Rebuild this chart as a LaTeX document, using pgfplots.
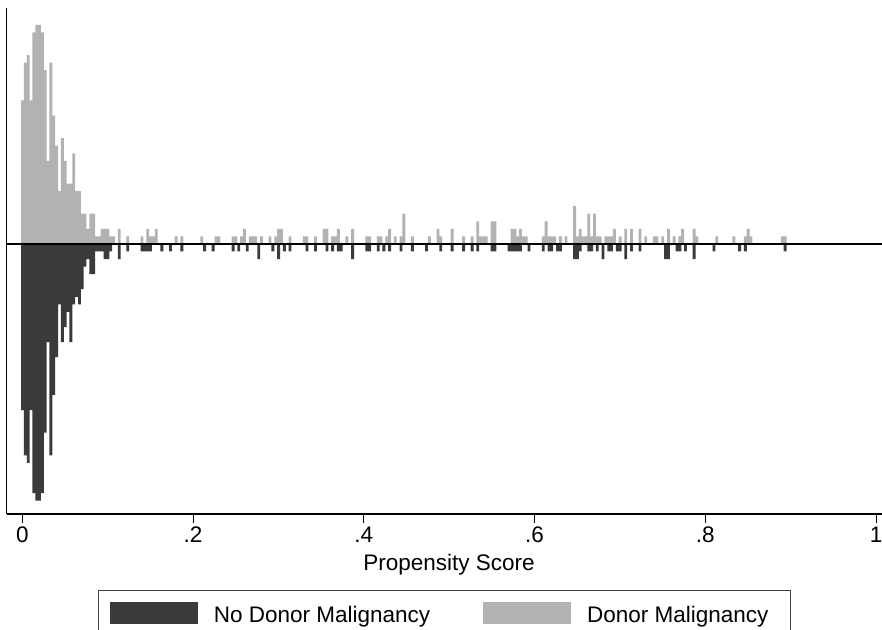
\documentclass[border=0pt]{standalone}
\usepackage{fontspec}
\setmainfont{Liberation Sans}
\usepackage{pgfplots}
\pgfplotsset{compat=1.18}
\definecolor{darkbar}{RGB}{58,58,58}
\definecolor{lightbar}{RGB}{178,178,178}
\newcommand{\chartfont}{\fontsize{22.5}{27}\selectfont}

% propensity score bins (width 1/300), counts; no malignancy drawn downwards
\pgfplotstableread{
x c
0.0002 19
0.0035 24
0.0069 25
0.0102 19
0.0135 28
0.0169 29
0.0202 29
0.0235 28
0.0269 23
0.0302 11
0.0335 24
0.0369 17
0.0402 13
0.0435 7
0.0469 14
0.0502 11
0.0535 8
0.0569 8
0.0602 12
0.0635 7
0.0669 7
0.0702 4
0.0735 4
0.0769 2
0.0802 4
0.0835 4
0.0869 1
0.0902 1
0.0935 2
0.0969 2
0.1002 2
0.1035 1
0.1069 1
0.1135 2
0.1235 1
0.1402 1
0.1469 2
0.1502 1
0.1535 1
0.1569 2
0.1802 1
0.1869 1
0.2102 1
0.2269 1
0.2302 1
0.2469 1
0.2502 1
0.2569 1
0.2602 2
0.2669 1
0.2702 1
0.2735 1
0.2802 1
0.2902 1
0.2969 1
0.3002 2
0.3035 2
0.3135 1
0.3302 1
0.3335 1
0.3435 1
0.3535 2
0.3569 2
0.3635 1
0.3669 1
0.3702 2
0.3802 1
0.3869 2
0.4035 1
0.4069 1
0.4169 1
0.4202 1
0.4269 1
0.4302 2
0.4369 1
0.4435 1
0.4469 4
0.4569 1
0.4769 1
0.4869 2
0.4902 1
0.5035 2
0.5169 1
0.5269 1
0.5335 3
0.5369 1
0.5402 1
0.5435 1
0.5502 3
0.5535 3
0.5735 2
0.5769 2
0.5802 1
0.5835 2
0.5869 1
0.5902 1
0.6102 1
0.6135 3
0.6169 1
0.6202 1
0.6235 1
0.6302 1
0.6369 1
0.6469 5
0.6502 1
0.6535 2
0.6569 1
0.6602 1
0.6635 4
0.6669 1
0.6702 4
0.6735 1
0.6769 1
0.6835 1
0.6869 1
0.6902 1
0.6935 2
0.7002 1
0.7069 2
0.7135 2
0.7235 2
0.7302 1
0.7402 1
0.7435 1
0.7502 1
0.7569 2
0.7635 1
0.7702 1
0.7735 2
0.7869 2
0.7902 1
0.8135 1
0.8335 1
0.8469 1
0.8502 2
0.8535 1
0.8902 1
0.8935 1
}\donor

\pgfplotstableread{
x c
0.0002 -22
0.0035 -28
0.0069 -29
0.0102 -22
0.0135 -33
0.0169 -34
0.0202 -34
0.0235 -33
0.0269 -25
0.0302 -13
0.0335 -28
0.0369 -20
0.0402 -15
0.0435 -8
0.0469 -13
0.0502 -11
0.0535 -9
0.0569 -13
0.0602 -8
0.0635 -7
0.0669 -8
0.0702 -6
0.0735 -3
0.0769 -2
0.0802 -4
0.0835 -4
0.0869 -1
0.0902 -1
0.0935 -1
0.0969 -2
0.1002 -2
0.1035 -1
0.1135 -2
0.1235 -1
0.1402 -1
0.1435 -1
0.1469 -1
0.1502 -1
0.1635 -1
0.1735 -1
0.1869 -1
0.2135 -1
0.2235 -1
0.2469 -1
0.2535 -1
0.2635 -1
0.2769 -2
0.2935 -1
0.3002 -2
0.3069 -1
0.3135 -1
0.3335 -1
0.3435 -1
0.3569 -1
0.3635 -1
0.3702 -1
0.3735 -1
0.3869 -2
0.4035 -1
0.4069 -1
0.4169 -1
0.4235 -1
0.4302 -1
0.4435 -1
0.4569 -1
0.4735 -1
0.4902 -1
0.5035 -1
0.5169 -1
0.5269 -1
0.5335 -1
0.5502 -1
0.5535 -1
0.5702 -1
0.5735 -1
0.5769 -1
0.5802 -1
0.5835 -1
0.5935 -1
0.6102 -1
0.6169 -1
0.6202 -1
0.6269 -1
0.6302 -1
0.6469 -2
0.6502 -2
0.6535 -1
0.6635 -1
0.6669 -1
0.6735 -1
0.6802 -2
0.6869 -1
0.6902 -1
0.6969 -1
0.7002 -1
0.7069 -2
0.7135 -1
0.7235 -1
0.7535 -2
0.7569 -2
0.7669 -1
0.7702 -1
0.7769 -1
0.7869 -2
0.8102 -1
0.8402 -1
0.8469 -1
0.8935 -1
}\nodonor

\begin{document}
\begin{tikzpicture}
\begin{axis}[
  name=ax, scale only axis, width=875.3pt, height=505.7pt,
  xmin=-0.0183, xmax=1.007, ymin=-35.76, ymax=31.2,
  axis lines*=left, axis line style={line width=1.2pt, black},
  ytick=\empty,
  xtick={0,0.2,0.4,0.6,0.8,1}, xticklabels={0,.2,.4,.6,.8,1},
  tick align=outside, major tick length=9pt, tick style={line width=1pt, black},
  tick label style={font=\chartfont}, /pgf/number format/assume math mode=true,
  xlabel={Propensity Score}, label style={font=\chartfont},
  xlabel style={at={(axis description cs:0.5053,-0.0732)}, anchor=north},
  legend columns=2,
  legend style={at={(axis description cs:0.1047,-0.1503)}, anchor=north west,
    draw=black!75, line width=1pt, font=\chartfont, inner xsep=11pt, inner ysep=11pt,
    nodes={inner sep=0pt},
    /tikz/every odd column/.append style={column sep=16pt},
    /tikz/every even column/.append style={column sep=53pt}},
]
\addplot[ybar, bar width=0.003333, bar shift=0pt, fill=darkbar, draw=none,
  legend image code/.code={\fill[darkbar] (0pt,-8.5pt) rectangle (88pt,13.8pt);}]
  table[x=x, y=c] {\nodonor};
\addlegendentry{No Donor Malignancy}
\addplot[ybar, bar width=0.003333, bar shift=0pt, fill=lightbar, draw=none,
  legend image code/.code={\fill[lightbar] (0pt,-8.5pt) rectangle (88pt,13.8pt);}]
  table[x=x, y=c] {\donor};
\addlegendentry{Donor Malignancy\kern11pt}
\draw[line width=1.2pt] (axis cs:-0.0183,0) -- (axis cs:1.007,0);
\end{axis}
\pgfresetboundingbox
\path ([shift={(-6.7pt,-115pt)}]ax.south west) rectangle ([shift={(0pt,8.3pt)}]ax.north east);
\end{tikzpicture}
\end{document}
